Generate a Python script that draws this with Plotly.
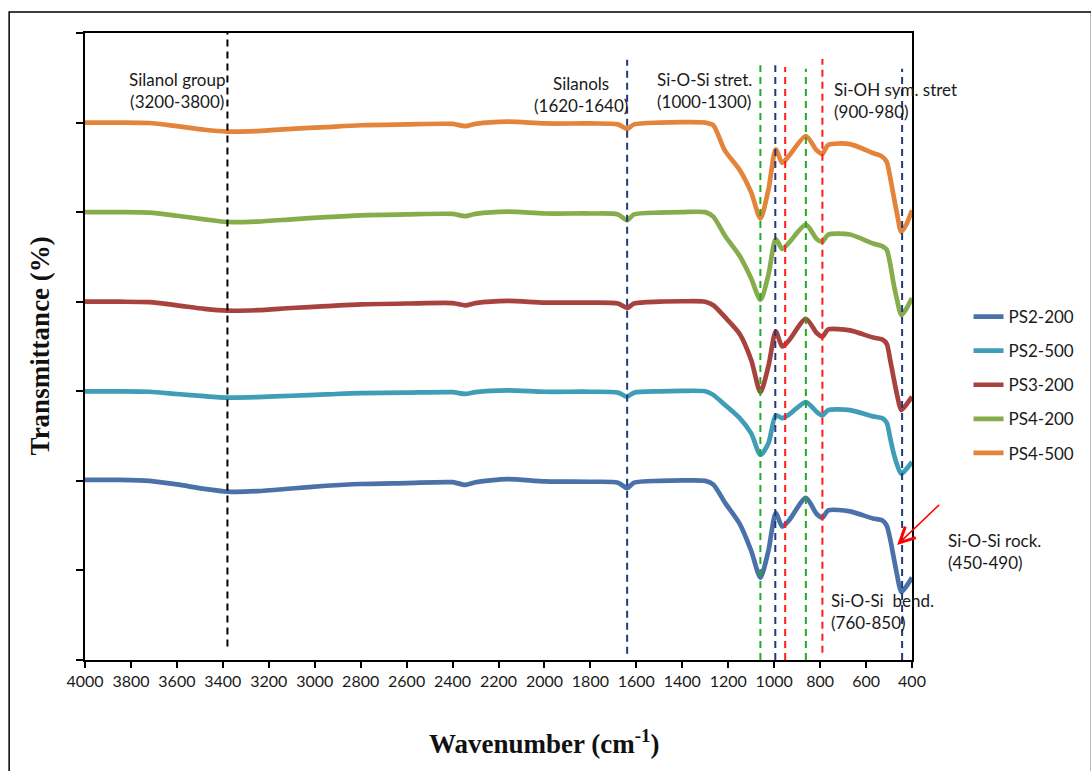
import plotly.graph_objects as go

# ---------------- data ----------------
wavenumber = [4000, 3850, 3720, 3600, 3480, 3380, 3250, 3100, 2950, 2800, 2600, 2400,
              2345, 2300, 2160, 2000, 1800, 1680, 1640, 1610, 1500, 1400, 1300,
              1265, 1215, 1150, 1100, 1060, 1025, 993, 965, 935, 862, 815, 790, 765,
              670, 570, 530, 510, 495, 480, 465, 447, 425, 400]

ps2_200 = [20.1, 20.1, 20.0, 19.6, 19.1, 18.8, 18.85, 19.15, 19.45, 19.65, 19.75, 19.85,
           19.55, 19.85, 20.2, 19.95, 19.9, 19.8, 19.2, 19.8, 20.0, 20.05, 20.0,
           19.6, 17.6, 15.2, 12.2, 9.2, 12.2, 16.4, 14.9, 15.6, 18.1, 16.3, 15.9, 16.7,
           16.6, 15.8, 15.6, 15.0, 13.5, 11.5, 9.5, 7.6, 8.2, 9.2]

ps2_500 = [30.0, 30.0, 29.95, 29.7, 29.45, 29.3, 29.35, 29.5, 29.65, 29.8, 29.85, 29.9,
           29.7, 29.9, 30.1, 29.95, 29.95, 29.85, 29.4, 29.85, 30.0, 30.05, 30.0,
           29.6, 28.5, 27.0, 25.3, 22.9, 24.2, 27.3, 27.0, 27.4, 28.8, 27.7, 27.3, 27.9,
           27.9, 27.2, 27.0, 26.5, 24.8, 23.1, 21.8, 20.8, 21.3, 22.1]

ps3_200 = [40.0, 40.0, 39.95, 39.6, 39.2, 39.0, 39.05, 39.3, 39.5, 39.7, 39.8, 39.85,
           39.6, 39.85, 40.1, 39.9, 39.9, 39.8, 39.3, 39.8, 40.0, 40.05, 40.0,
           39.6, 38.3, 36.4, 33.5, 29.9, 32.8, 36.7, 35.0, 35.7, 38.1, 36.5, 36.1, 36.9,
           36.8, 36.0, 35.8, 35.3, 33.5, 31.5, 29.6, 27.9, 28.5, 29.4]

ps4_200 = [50.0, 50.0, 49.95, 49.6, 49.2, 48.9, 48.95, 49.2, 49.45, 49.65, 49.75, 49.8,
           49.55, 49.8, 50.05, 49.85, 49.85, 49.75, 49.1, 49.75, 49.95, 50.0, 50.0,
           49.5, 47.4, 45.1, 42.6, 40.2, 43.0, 47.0, 45.9, 46.6, 48.6, 47.0, 46.7, 47.5,
           47.5, 46.5, 46.2, 45.8, 44.2, 42.0, 40.2, 38.5, 39.2, 40.4]

ps4_500 = [60.0, 60.0, 59.95, 59.6, 59.2, 59.0, 59.05, 59.3, 59.5, 59.7, 59.8, 59.85,
           59.6, 59.85, 60.1, 59.9, 59.9, 59.8, 59.3, 59.8, 60.0, 60.05, 60.0,
           59.7, 56.9, 54.7, 52.2, 49.3, 52.5, 57.0, 55.5, 56.3, 58.5, 56.9, 56.5, 57.5,
           57.6, 56.6, 56.2, 55.6, 53.9, 51.8, 49.8, 47.8, 48.6, 50.2]

series_names = ["PS2-200", "PS2-500", "PS3-200", "PS4-200", "PS4-500"]
series_values = [ps2_200, ps2_500, ps3_200, ps4_200, ps4_500]

# band marker lines (wavenumber, top, bottom of the dashed line)
band_wn = [3380, 1640, 1060, 995, 952, 862, 790, 443]
band_top = [70, 67.0, 66.4, 66.4, 66.2, 66.0, 67.1, 66.0]
band_bottom = [1.5, 0.7, 0, 0, 0, 0, 0.8, 0]

x_ticks = list(range(400, 4001, 200))
y_ticks = list(range(0, 71, 10))

# ---------------- styles ----------------
series_colors = ["#4A72A8", "#3F9DB7", "#A8423E", "#87AC4B", "#E3843A"]
band_colors = ["#000000", "#1F3A78", "#22AA22", "#1F3A78", "#FF1A1A", "#22AA22", "#FF1A1A", "#1F3A78"]

LAB_FONT = "Lato, 'Open Sans', sans-serif"
TITLE_FONT = "'Liberation Serif', 'Times New Roman', serif"

L, R, T, B = 85, 919, 33, 660
W, H = 1091, 771


def px_to_paper(px, py):
    return (px - L) / (R - L), (B - py) / (B - T)


fig = go.Figure()

for name, vals, col in zip(series_names, series_values, series_colors):
    fig.add_trace(go.Scatter(
        x=wavenumber, y=vals, name=name, mode="lines",
        line=dict(color=col, width=4.7, shape="spline", smoothing=0.7),
        legendgroup=name,
    ))

for wn, top, bot, col in zip(band_wn, band_top, band_bottom, band_colors):
    fig.add_shape(type="line", xref="x", yref="y", x0=wn, x1=wn, y0=bot, y1=top,
                  line=dict(color=col, width=2, dash="7px,5px"), layer="above")

# outer frame
fx0, fy0 = px_to_paper(8.5, 12)
fx1, fy1 = px_to_paper(1100, 780)
fig.add_shape(type="rect", xref="paper", yref="paper", x0=fx0, x1=fx1, y0=fy1, y1=fy0,
              line=dict(color="#000000", width=1.5), layer="below")

labels = [
    ("Silanol group<br>(3200-3800)", 178, 90, "center"),
    ("Silanols<br>(1620-1640)", 585, 94.5, "center"),
    ("Si-O-Si stret.<br>(1000-1300)", 660, 90, "left"),
    ("Si-OH sym. stret<br>(900-980)", 838, 101, "left"),
    ("Si-O-Si rock.<br>(450-490)", 953, 551.5, "left"),
    ("Si-O-Si  bend.<br>(760-850)", 835, 611, "left"),
]
for text, px, py, anchor in labels:
    ax_, ay_ = px_to_paper(px, py)
    fig.add_annotation(text=text, xref="paper", yref="paper", x=ax_, y=ay_,
                       xanchor=anchor, yanchor="middle", align=anchor, showarrow=False,
                       font=dict(family=LAB_FONT, size=17, color="#1a1a1a"))

# red arrow
hx, hy = px_to_paper(904, 545)
fig.add_annotation(xref="paper", yref="paper", x=hx, y=hy, ax=45, ay=-43, text=" ",
                   showarrow=True, arrowhead=5, arrowsize=2, arrowwidth=1.5,
                   arrowcolor="#FF0000")

# axis titles
tx, ty = px_to_paper(548, 742)
fig.add_annotation(text="<b>Wavenumber (cm<sup>-1</sup>)</b>", xref="paper", yref="paper",
                   x=tx, y=ty, showarrow=False, xanchor="center", yanchor="middle",
                   font=dict(family=TITLE_FONT, size=27, color="#111111"))
yx, yy = px_to_paper(40, 346)
fig.add_annotation(text="<b>Transmittance (%)</b>", xref="paper", yref="paper",
                   x=yx, y=yy, showarrow=False, textangle=-90, xanchor="center",
                   yanchor="middle", font=dict(family=TITLE_FONT, size=27, color="#111111"))

lx, ly = px_to_paper(976, 299)
fig.update_layout(
    width=W, height=H,
    margin=dict(l=L, r=W - R, t=T, b=H - B),
    paper_bgcolor="white", plot_bgcolor="white",
    showlegend=True,
    legend=dict(x=lx, y=ly, xanchor="left", yanchor="top", tracegroupgap=9,
                font=dict(family=LAB_FONT, size=17, color="#1a1a1a"),
                bgcolor="rgba(0,0,0,0)"),
    xaxis=dict(range=[4000, 400], tickvals=x_ticks, ticks="outside", ticklen=6,
               tickwidth=1.5, tickcolor="#000", showline=True, linecolor="#000",
               linewidth=2, mirror=True, showgrid=False, zeroline=False,
               tickfont=dict(family=LAB_FONT, size=16, color="#1a1a1a")),
    yaxis=dict(range=[0, 70], tickvals=y_ticks, ticks="outside", ticklen=7,
               tickwidth=1.5, tickcolor="#000", showline=True, linecolor="#000",
               linewidth=2, mirror=True, showgrid=False, zeroline=False,
               showticklabels=False),
)

fig.write_html("out.html", config={"displayModeBar": False},
               post_script="document.body.style.margin='0';document.body.style.overflow='hidden';")
